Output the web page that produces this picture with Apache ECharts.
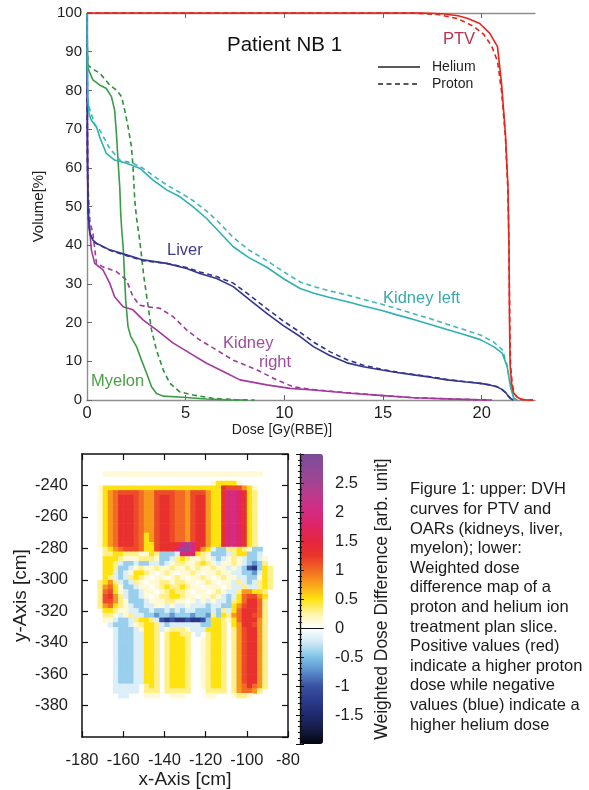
<!DOCTYPE html>
<html>
<head>
<meta charset="utf-8">
<script src="https://cdn.jsdelivr.net/npm/echarts@6/dist/echarts.min.js"></script>
<style>
  html, body { margin: 0; padding: 0; background: #fff; }
  #chart { width: 589px; height: 790px; }
</style>
</head>
<body>
<div id="chart"></div>
<script>
// ---------- DVH curves: [dose Gy(RBE), volume %] ----------
const ptvHelium = [[0,100],[17.0,100],[18.0,99.8],[18.8,99.3],[19.3,98.6],[19.9,97.3],[20.4,94.8],[20.8,91.3],[21.0,82],[21.2,69],[21.33,55],[21.38,40],[21.41,20],[21.44,9],[21.52,4],[21.62,1.8],[21.8,0.7],[22.0,0.2],[22.3,0],[22.6,0]];
const ptvProton = [[0,100],[16.5,100],[17.8,99.6],[18.8,98.5],[19.6,96.5],[20.1,94.5],[20.5,91.5],[20.8,87.5],[21.0,80],[21.2,68],[21.33,54],[21.38,40],[21.42,20],[21.46,9],[21.55,4],[21.65,1.6],[21.85,0.5],[22.1,0.1],[22.6,0]];

const myelonHelium = [[0,100],[0.02,90],[0.05,85.7],[0.3,82.7],[0.64,81.4],[0.98,80.5],[1.24,78.4],[1.4,74.9],[1.49,68.9],[1.57,62],[1.66,55],[1.71,48],[1.76,44],[1.83,39.6],[1.96,25.8],[2.08,18.9],[2.22,16.4],[2.51,13.8],[2.76,10.3],[3.02,6.9],[3.27,3.4],[3.52,1.7],[3.86,1.0],[4.87,0.7],[6.06,0.26],[7,0.05],[8,0]];
const myelonProton = [[0,100],[0.02,90],[0.05,86.5],[0.3,85.5],[0.64,84.5],[1.15,81.4],[1.49,80.1],[1.75,78.4],[1.91,74.9],[2.08,70.6],[2.25,65.5],[2.33,60.3],[2.42,51.7],[2.51,47],[2.67,41.3],[2.88,31.9],[3.1,24.1],[3.27,18.1],[3.52,12.9],[3.86,7.8],[4.2,4.3],[4.7,2.1],[5.38,1.3],[6.4,0.4],[7.5,0.1],[8.5,0]];

const kidneyLeftHelium = [[0,100],[0.02,85],[0.04,78],[0.1,74],[0.22,72.3],[0.48,70.6],[0.64,68],[0.98,63.7],[1.4,62],[2.0,61.2],[2.67,59.9],[3.35,56.8],[4.03,54.3],[4.71,52.5],[5.38,49.9],[6.06,46.9],[6.6,44],[7.41,39.6],[8.2,36.8],[9.11,34.3],[10.0,31.2],[10.8,28.8],[11.5,27.6],[12.3,26.5],[13.2,25.4],[14.0,24.3],[14.9,23.2],[15.7,22],[16.55,20.8],[17.4,19.5],[18.24,18.2],[19.1,16.9],[19.93,15.6],[20.6,13.8],[21.04,12.1],[21.29,8.6],[21.46,3.4],[21.63,0.4],[21.8,0]];
const kidneyLeftProton = [[0,100],[0.02,85],[0.05,77],[0.15,75],[0.4,71],[0.64,69.8],[1.15,65],[1.66,62],[2.33,61.2],[2.8,60],[3.4,57.8],[4.03,55.6],[4.71,53.6],[5.38,51.5],[6.06,48.8],[6.6,46.3],[7.41,42],[8.2,38.8],[9.11,36],[10.0,33],[10.8,30.5],[11.5,29.3],[12.3,28.2],[13.2,27.1],[14.0,26],[14.9,24.8],[15.7,23.6],[16.55,22.3],[17.4,21],[18.24,19.6],[19.1,18.2],[19.93,16.8],[20.6,15],[21.04,13],[21.29,9],[21.46,3.6],[21.63,0.4],[21.8,0]];

const liverHelium = [[0,100],[0.02,62],[0.06,48],[0.14,43.1],[0.3,41.3],[0.48,40.5],[1.15,38.8],[2.0,37.5],[2.84,36.2],[4.03,35.3],[5.05,34],[5.72,32.7],[6.57,31.4],[7.41,29.3],[8.26,25.8],[9.11,22.4],[9.95,19.2],[10.8,16.4],[11.47,13.8],[12.3,11.5],[13.17,9.6],[14.0,8.6],[14.86,7.8],[15.7,7.1],[16.55,6.5],[17.4,5.9],[18.24,5.2],[19.1,4.7],[19.93,4.3],[20.4,3.9],[20.78,3.4],[21.0,2.8],[21.2,2.0],[21.35,1.0],[21.46,0.4],[21.6,0]];
const liverProton = [[0,100],[0.02,62],[0.06,48],[0.14,43],[0.3,41.2],[0.48,40.4],[1.15,38.7],[2.0,37.3],[2.84,36.0],[4.03,35.3],[5.05,34.2],[5.72,33.1],[6.57,31.9],[7.41,30.2],[8.26,27.0],[9.11,23.6],[9.95,20.4],[10.8,17.5],[11.47,15.0],[12.3,12.5],[13.17,10.4],[14.0,9.0],[14.86,8.0],[15.7,7.2],[16.55,6.6],[17.4,6.0],[18.24,5.3],[19.1,4.8],[19.93,4.3],[20.4,3.9],[20.78,3.4],[21.0,2.8],[21.2,2.0],[21.35,1.0],[21.46,0.4],[21.6,0]];

const kidneyRightHelium = [[0,100],[0.02,70],[0.05,52],[0.1,46.5],[0.22,38.8],[0.39,35.3],[0.81,33.6],[1.15,30.2],[1.4,26.7],[1.83,24.1],[2.33,23.3],[2.84,20.7],[3.52,18.1],[4.37,14.7],[5.21,12.1],[6.06,9.5],[7.08,6.9],[7.75,5.2],[9.11,3.9],[10.28,3.0],[11.47,2.6],[13.17,1.8],[14.86,1.2],[16.55,0.6],[18.24,0.3],[19.9,0.05],[20.5,0]];
const kidneyRightProton = [[0,100],[0.02,70],[0.05,55],[0.15,46],[0.3,43],[0.48,35.3],[0.81,34.4],[1.49,33.2],[2.0,31],[2.33,26.7],[2.67,24.5],[3.2,24],[3.69,23.7],[4.37,21.5],[5.05,18.1],[5.72,15.5],[6.57,12.9],[7.41,10.3],[8.6,7.8],[9.61,5.2],[10.45,3.4],[11.47,2.7],[13.17,1.9],[14.86,1.2],[16.55,0.6],[18.24,0.3],[19.9,0.05],[20.5,0]];

const doseTicks = [0, 5, 10, 15, 20];

// ---------- Dose difference map ----------
// One character per cell; rows run from the top (y = -222 cm) downward in 3 cm steps,
// columns run from x = -172.5 cm rightward in 2.5 cm steps.
const heatLevels = {
  '.': 0, 'f': 0.12, 'y': 0.3, 'Y': 0.5, 'o': 0.8, 'O': 1.0, 'r': 1.15, 'R': 1.3,
  'm': 1.75, 'M': 2.0, 'P': 2.6, 'c': -0.18, 'b': -0.42, 'B': -0.7, 'n': -1.0, 'N': -1.3
};
const heatRows = [
  "...................................",
  "...................................",
  "...................................",
  ".fffffffffffffffffffffffffffffff...",
  "...................................",
  "......................fYYYYf.......",
  "fYYYYYYYYYYYYYYYYYYYYYYYRrrroYf....",
  "fYoOrrrrOoorrrrOOorrroYYRMMmRYy....",
  "fYoORRRrOoorRRrOOorRRoYYRMMmRYy....",
  "fYoORRRrOoorRRrOOorRRoYYRMMmRYy....",
  "fYoORRRrOoorRRrOOorRRoYYRMMmRYy....",
  "fYoORRRrOoorRRrOOorRRoYYRMMmRYy....",
  "fYoORRRrOoorRRrOOorRRoYYRMMmRYy....",
  "fYoORRRrOoorRRrOOorRRoYYRMMmRYy....",
  "fYoORRRrOoorRRrOOorRRoYYRMMmRYy....",
  "fYoORRRrOoorRRrOOorRRoYYRMMmRYy....",
  "fYoORRRrOYorRRrOOorRRoYYRMMmRYy....",
  "fYoORRRrOYorRRrOOorRRoYYRMMmRYy....",
  "fYoORRRrOYYrRRRRMPMRRoYYRMMmRYy....",
  ".yYoOrrrOYYrRRRMPPMRoYcbbyyYyfbb...",
  ".yyYYyyyffYybbbcMMmYyfbbbcyYYbbc...",
  ".YYYyfffyyyfbbcyYyffyfcbcfyfcbbcf..",
  ".YYycbbcbbccbcfyyffyYyfcffyfcbBby..",
  ".YYybbcfyffyffyffyfyffyffcfcbnNbYy.",
  ".YYcbcfYYyf.fyf.ffyf.ffyffccbbBcYy.",
  ".YycbcyYyf.ff.fyf.ffyf.fyffccbbfYy.",
  "yYoycbcyf.ffyyfyyff.fyf.ffcycbcyYy.",
  "yoOYfbbcff.fyYyyYyff.fff.fccyccyYy.",
  "yOrYfcbbcff.fyYyyf.ff.fyfccyooYYy..",
  "yrRoycbbcf.fyyYYyff.ffyfcbcYOrroY..",
  "yrroyfbbbcfffyyff.fcfcfccbyYORROy..",
  "yoOYyfcbbccffcfccfcccbccbbYorRROy..",
  ".YYyffccbbcbbcbcbccbbbcbycYORRROy..",
  ".yyfcfyccbbBbbBbbbBbbBybYyoORRrOy..",
  ".ffcbbcyYYycnNnNNnNNnbYYyfYORRRoy..",
  "..cbbbcfyYYycbccccccbbYYy.YoRRroy..",
  "...cbbbcfYYycfyyyfcccYYYy.yorRRoy..",
  "...cbbbccYYy.yYYyy.c.yYYy.yorRRoy..",
  "...cbbbccYYy.yYYYy..fyYYy.yorRRoy..",
  "...cbbbccYYy.yYYYy..fyYYy.yorRRoy..",
  "...cbbbccYYy.yYYYy..fyYYy.yorRRoy..",
  "...cbbbccYYy.yYYYy..fyYYy.yorRRoy..",
  "...cbbbccYYy.yYYYy..fyYYy.yorRRoy..",
  "...cbbbccYYy.yYYYy..fyYYy.yorRRoy..",
  "...cbbbccYYy.yYYYy..fyYYy.yorRRoy..",
  "...cbbbccYYy.yYYYy..fyYYy.yorRRoy..",
  "...cbbbccYYy.yYYYy..fyYYy.yorRRoy..",
  "...cbbbccYYy.yYYYy..fyYYy.yorRRoy..",
  "...ccccc.yYy.yYYYy..fyYYy.yoOROoy..",
  "...ccccc.yyy.yyyyy...yyyy.yoOOoy...",
  "....cc...fff..fff....ff...fyyf.....",
  "...................................",
  "...................................",
  "..................................."
];
const HEAT_X0 = -172.5, HEAT_DX = 2.5;   // cm
const HEAT_Y0 = -222,   HEAT_DY = 3;     // cm

// Colour bar of the difference map, evenly spaced from -2 to 3 (0.25 steps)
const colorbarColors = [
  '#05050f', '#161b45', '#1f2a6b', '#2b3a8c', '#3a52a3', '#5b8dcc', '#7fc3e8', '#cfe9f6',
  '#ffffff', '#fff4a8', '#ffe20f', '#f9a21b', '#f26a24', '#e9342a', '#e4263f', '#df2566',
  '#d52a80', '#c0378b', '#a34392', '#8e4a98', '#7c4c96'
];

const legendItems = ['Helium', 'Proton'];

const captionLines = [
  'Figure 1: upper: DVH',
  'curves for PTV and',
  'OARs (kidneys, liver,',
  'myelon); lower:',
  'Weighted dose',
  'difference map of a',
  'proton and helium ion',
  'treatment plan slice.',
  'Positive values (red)',
  'indicate a higher proton',
  'dose while negative',
  'values (blue) indicate a',
  'higher helium dose'
];

// ---------- build ----------
const FONT = 'Liberation Sans, Arial, sans-serif';
const AXIS_GRAY = '#8e8e8e';
const INK = '#1e1e1e';
const DASH = [5, 3.5];

const heatCells = [];
heatRows.forEach((row, r) => {
  for (let c = 0; c < row.length; c++) {
    const v = heatLevels[row[c]];
    if (v) heatCells.push([HEAT_X0 + (c + 0.5) * HEAT_DX, HEAT_Y0 - (r + 0.5) * HEAT_DY, v]);
  }
});

function dvh(name, data, color, dashed) {
  return {
    type: 'line', name, data, xAxisIndex: 0, yAxisIndex: 0,
    symbol: 'none', clip: false, silent: true, animation: false,
    lineStyle: { color, width: 1.6, type: dashed ? DASH : 'solid' },
    itemStyle: { color }
  };
}

const series = [
  dvh('Myelon P', myelonProton, '#2f8f3c', true),
  dvh('Myelon H', myelonHelium, '#3b9c46', false),
  dvh('Kidney right P', kidneyRightProton, '#a03b9a', true),
  dvh('Kidney right H', kidneyRightHelium, '#a3389d', false),
  dvh('Liver P', liverProton, '#33348c', true),
  dvh('Liver H', liverHelium, '#33358f', false),
  dvh('Kidney left P', kidneyLeftProton, '#44b6b8', true),
  dvh('Kidney left H', kidneyLeftHelium, '#2fb0b1', false),
  dvh('PTV P', ptvProton, '#e2231a', true),
  dvh('PTV H', ptvHelium, '#e5251c', false),
  {
    type: 'custom', name: 'dose difference', data: heatCells,
    xAxisIndex: 2, yAxisIndex: 1, encode: { x: 0, y: 1 }, silent: true, animation: false,
    renderItem(params, api) {
      const x = api.value(0), y = api.value(1);
      const a = api.coord([x - HEAT_DX / 2, y + HEAT_DY / 2]);
      const b = api.coord([x + HEAT_DX / 2, y - HEAT_DY / 2]);
      return {
        type: 'rect',
        shape: { x: a[0], y: a[1], width: b[0] - a[0] + 0.6, height: b[1] - a[1] + 0.6 },
        style: { fill: api.visual('color') }
      };
    }
  }
];
const heatSeriesIndex = series.length - 1;

const blackLine = { lineStyle: { color: '#111', width: 1.5 } };
const hidden = { show: false };

function textEl(text, x, y, size, color, align) {
  return {
    type: 'text', x, y, silent: true,
    style: { text, font: size + 'px ' + FONT, fill: color,
      align: align || 'left', textAlign: align || 'left',
      verticalAlign: 'middle', textVerticalAlign: 'middle' }
  };
}

// line-style key: solid = helium, dashed = proton
const legendKey = [];
legendItems.forEach((label, i) => {
  const y = 67 + i * 17;
  legendKey.push({
    type: 'line', silent: true,
    shape: { x1: 378, y1: y, x2: 420, y2: y },
    style: { stroke: '#222', lineWidth: 1.6, lineDash: i === 0 ? null : DASH }
  });
  legendKey.push(textEl(label, 432, y, 14, INK));
});

const option = {
  animation: false,
  backgroundColor: '#fff',
  textStyle: { fontFamily: FONT },
  grid: [
    { left: 87, top: 13, width: 448, height: 387 },
    { left: 82, top: 454, width: 206, height: 290 },
    { left: 300, top: 454, width: 23, height: 290 }
  ],
  xAxis: [
    { gridIndex: 0, type: 'value', min: 0, max: 22.7, position: 'bottom',
      axisLine: { lineStyle: { color: AXIS_GRAY, width: 1.4 } },
      axisTick: { inside: true, length: 5, customValues: doseTicks.slice(1), lineStyle: { color: '#666' } },
      axisLabel: { customValues: doseTicks, fontSize: 16.5, color: INK, margin: 5, fontFamily: FONT },
      splitLine: hidden,
      name: 'Dose [Gy(RBE)]', nameLocation: 'middle', nameGap: 23,
      nameTextStyle: { fontSize: 14, color: INK, fontFamily: FONT, padding: [0, 58, 0, 0] } },
    { gridIndex: 0, type: 'value', min: 0, max: 22.7, position: 'top',
      axisLine: { lineStyle: { color: AXIS_GRAY, width: 1.4 } },
      axisTick: { inside: true, length: 5, customValues: doseTicks.slice(1), lineStyle: { color: '#666' } },
      axisLabel: hidden, splitLine: hidden },
    { gridIndex: 1, type: 'value', min: -180, max: -80, interval: 20, position: 'bottom',
      axisLine: blackLine,
      axisTick: { inside: true, length: 6, lineStyle: { color: '#111', width: 1.2 } },
      axisLabel: { fontSize: 16.5, color: INK, margin: 15, fontFamily: FONT },
      splitLine: hidden,
      name: 'x-Axis [cm]', nameLocation: 'middle', nameGap: 28,
      nameTextStyle: { fontSize: 19, color: INK, fontFamily: FONT } },
    { gridIndex: 1, type: 'value', min: -180, max: -80, interval: 20, position: 'top',
      axisLine: blackLine,
      axisTick: { inside: true, length: 6, lineStyle: { color: '#111', width: 1.2 } },
      axisLabel: hidden, splitLine: hidden },
    { gridIndex: 2, type: 'value', min: 0, max: 1, position: 'bottom', z: 10,
      axisLine: { lineStyle: { color: '#111', width: 1.2 } }, axisTick: hidden, axisLabel: hidden, splitLine: hidden },
    { gridIndex: 2, type: 'value', min: 0, max: 1, position: 'top', z: 10,
      axisLine: { lineStyle: { color: '#111', width: 1.2 } }, axisTick: hidden, axisLabel: hidden, splitLine: hidden }
  ],
  yAxis: [
    { gridIndex: 0, type: 'value', min: 0, max: 100, interval: 10, position: 'left',
      axisLine: { show: true, lineStyle: { color: AXIS_GRAY, width: 1.4 } },
      axisTick: { show: true, inside: true, length: 5, lineStyle: { color: '#666' } },
      axisLabel: { fontSize: 15, color: INK, margin: 5, fontFamily: FONT },
      splitLine: hidden,
      name: 'Volume[%]', nameLocation: 'middle', nameGap: 34,
      nameTextStyle: { fontSize: 15, color: INK, fontFamily: FONT } },
    { gridIndex: 1, type: 'value', min: -400, max: -220, interval: 20, position: 'left',
      axisLine: { show: true, ...blackLine },
      axisTick: { show: true, inside: true, length: 6, lineStyle: { color: '#111', width: 1.2 } },
      axisLabel: { fontSize: 16.5, color: INK, margin: 14, showMinLabel: false, showMaxLabel: false, fontFamily: FONT },
      splitLine: hidden,
      name: 'y-Axis [cm]', nameLocation: 'middle', nameGap: 52,
      nameTextStyle: { fontSize: 19, color: INK, fontFamily: FONT } },
    { gridIndex: 1, type: 'value', min: -400, max: -220, interval: 20, position: 'right',
      axisLine: { show: true, ...blackLine },
      axisTick: { show: true, inside: true, length: 6, lineStyle: { color: '#111', width: 1.2 } },
      axisLabel: hidden, splitLine: hidden },
    { gridIndex: 2, type: 'value', min: -2, max: 3, interval: 0.5, position: 'left', z: 10,
      axisLine: { show: true, lineStyle: { color: '#111', width: 1.2 } },
      axisTick: { show: true, inside: true, length: 4, lineStyle: { color: '#111' } },
      minorTick: { show: true, splitNumber: 5, length: 2, lineStyle: { color: '#111' } },
      axisLabel: hidden, splitLine: hidden },
    { gridIndex: 2, type: 'value', min: -2, max: 3, interval: 0.5, position: 'right', z: 10,
      axisLine: { show: true, lineStyle: { color: '#111', width: 1.2 } },
      axisTick: { show: true, inside: true, length: 4, lineStyle: { color: '#111' } },
      minorTick: { show: true, splitNumber: 5, length: 2, lineStyle: { color: '#111' } },
      axisLabel: { fontSize: 16.5, color: INK, margin: 12, showMinLabel: false, showMaxLabel: false, fontFamily: FONT },
      splitLine: hidden,
      name: 'Weighted Dose Difference [arb. unit]', nameLocation: 'middle', nameRotate: 90, nameGap: 50,
      nameTextStyle: { fontSize: 17.5, color: INK, fontFamily: FONT } }
  ],
  visualMap: {
    type: 'continuous', seriesIndex: heatSeriesIndex, dimension: 2,
    min: -2, max: 3, inRange: { color: colorbarColors },
    orient: 'vertical', left: 300, top: 454, itemWidth: 23, itemHeight: 290,
    calculable: false, hoverLink: false, padding: 0, text: null, z: 4
  },
  graphic: [
    textEl('Patient NB 1', 284.5, 45, 20.5, '#111', 'center'),
    ...legendKey,
    textEl('PTV', 443, 39, 16.5, '#b63450'),
    textEl('Liver', 167, 250, 16.5, '#3c3b8e'),
    textEl('Kidney left', 383, 298, 16.5, '#39aaa9'),
    textEl('Kidney', 223, 343, 16.5, '#9e4b9e'),
    textEl('right', 259, 362, 16.5, '#9e4b9e'),
    textEl('Myelon', 91, 381, 16.5, '#4b9f47'),
    {
      type: 'text', x: 410, y: 480, silent: true,
      style: { text: captionLines.join('\n'), font: '16.5px ' + FONT, fill: '#1a1a1a', lineHeight: 19.6,
        align: 'left', textAlign: 'left', verticalAlign: 'top', textVerticalAlign: 'top' }
    }
  ],
  series
};

const chart = echarts.init(document.getElementById('chart'), null, { renderer: 'canvas' });
chart.setOption(option);
</script>
</body>
</html>
